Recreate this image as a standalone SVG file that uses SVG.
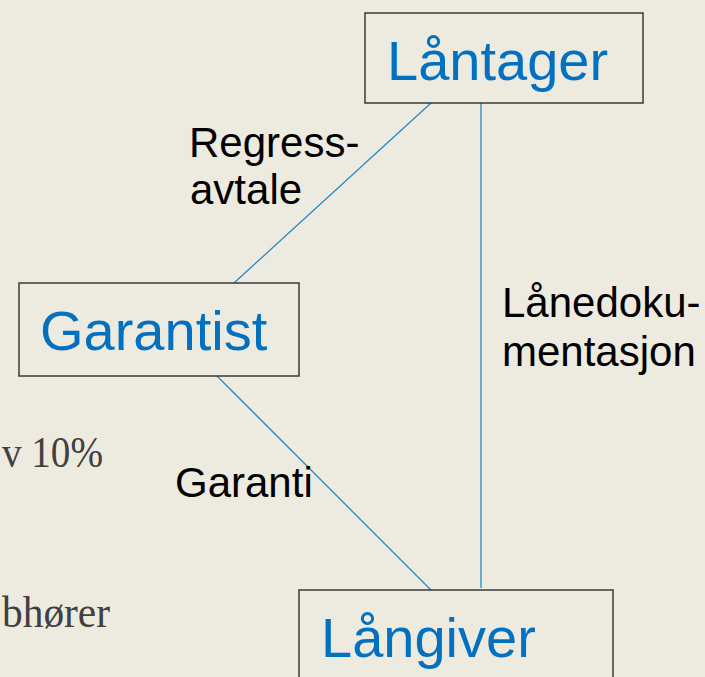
<svg xmlns="http://www.w3.org/2000/svg" width="705" height="677" viewBox="0 0 705 677">
<style>
.box{fill:none;stroke:#3a3a3a;stroke-width:1.5}
.node{font-family:"Liberation Sans",Arial,sans-serif;font-size:56px;fill:#0070C0}
.lbl{font-family:"Liberation Sans",Arial,sans-serif;font-size:42px;fill:#000}
.body{font-family:"Liberation Serif","Times New Roman",serif;font-size:45px;fill:#404040}
.conn{stroke:#2389C8;stroke-width:1.3;fill:none}
</style>
<rect width="705" height="677" fill="#EDEAE0"/>
<g id="bodytext">
<text class="body" x="2" y="467" textLength="101" lengthAdjust="spacingAndGlyphs">v 10%</text>
<text class="body" x="2" y="627" textLength="108" lengthAdjust="spacingAndGlyphs">bhører</text>
</g>
<g id="connectors">
<line class="conn" x1="431" y1="103" x2="234" y2="283"/>
<line class="conn" x1="481" y1="103" x2="481" y2="588"/>
<line class="conn" x1="217" y1="376" x2="431" y2="590"/>
<text class="lbl" x="189" y="157">Regress-</text>
<text class="lbl" x="190" y="204">avtale</text>
<text class="lbl" x="502" y="317">Lånedoku-</text>
<text class="lbl" x="502" y="366">mentasjon</text>
<text class="lbl" x="175" y="497">Garanti</text>
</g>
<g id="laantager">
<rect class="box" x="365" y="13" width="278" height="90"/>
<text class="node" x="387" y="80">Låntager</text>
</g>
<g id="garantist">
<rect class="box" x="19" y="283" width="280" height="93"/>
<text class="node" x="40" y="350">Garantist</text>
</g>
<g id="laangiver">
<rect class="box" x="299" y="590" width="314" height="120"/>
<text class="node" x="321" y="657">Långiver</text>
</g>
</svg>
